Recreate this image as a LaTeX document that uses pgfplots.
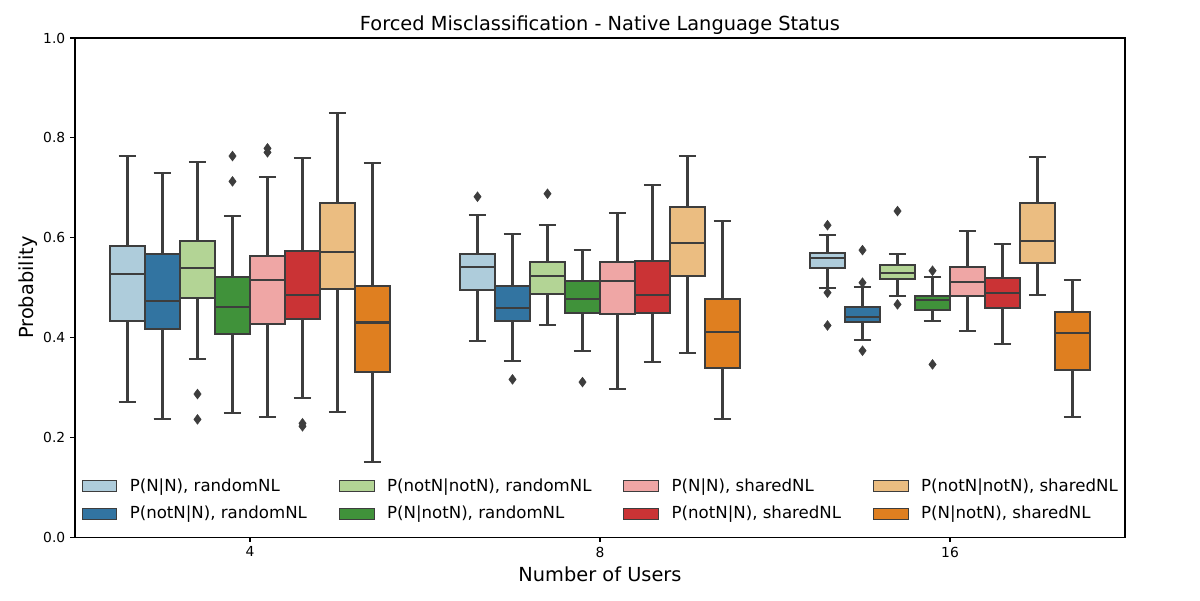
\documentclass[border=0pt]{standalone}
\usepackage{fontspec}
\setmainfont{DejaVu Sans}
\usepackage{pgfplots}
\pgfplotsset{compat=1.18}
\usepgfplotslibrary{statistics}

% Paired palette, desaturated
\definecolor{cA}{RGB}{174,204,219}
\definecolor{cB}{RGB}{50,116,161}
\definecolor{cC}{RGB}{179,212,149}
\definecolor{cD}{RGB}{64,146,58}
\definecolor{cE}{RGB}{239,166,165}
\definecolor{cF}{RGB}{202,51,53}
\definecolor{cG}{RGB}{235,189,129}
\definecolor{cH}{RGB}{223,127,32}
\definecolor{lc}{RGB}{61,61,61}

\pgfplotsset{
  bx/.style={forget plot, draw=lc, line width=1.5bp,
    mark=diamond*, mark size=3.5bp,
    mark options={fill=lc, draw=lc, line width=0.4bp, solid},
    boxplot/draw direction=y,
    boxplot/box extend=0.098, boxplot/whisker extend=0.05},
  lgd/.style={legend image code/.code={%
    \draw[##1,line width=0.7bp] (0bp,-4bp) rectangle (25bp,4bp);}},
}

% position, colour, lower whisker, Q1, median, Q3, upper whisker
\newcommand{\bx}[7]{\addplot[bx, fill=#2, boxplot prepared={draw position=#1,
  lower whisker=#3, lower quartile=#4, median=#5, upper quartile=#6, upper whisker=#7}]}

\begin{document}
\begin{tikzpicture}
\path[use as bounding box] (-54bp,-45.4bp) rectangle (810bp,386.7bp);
\begin{axis}[
  at={(0,0)}, anchor=south west,
  scale only axis, width=756bp, height=359.3bp,
  xmin=-0.5, xmax=2.5, ymin=0, ymax=1,
  xtick={0,1,2}, xticklabels={4,8,16},
  ytick={0,0.2,0.4,0.6,0.8,1.0},
  yticklabel style={/pgf/number format/.cd, fixed, fixed zerofill, precision=1},
  /pgf/number format/assume math mode=true,
  tick label style={font=\fontsize{10}{12}\selectfont, text=black},
  tick align=outside, xtick pos=bottom, ytick pos=left,
  major tick length=3.5bp,
  tick style={black, line width=0.8bp},
  axis line style={black, line width=0.8bp},
  title={Forced Misclassification - Native Language Status},
  every axis title/.style={font=\fontsize{14}{16}\selectfont,
    at={(axis description cs:0.5,1)}, yshift=9bp, anchor=center},
  xlabel={Number of Users},
  every axis x label/.style={font=\fontsize{14}{16}\selectfont,
    at={(axis description cs:0.5,0)}, yshift=-27bp, anchor=center},
  ylabel={Probability},
  every axis y label/.style={font=\fontsize{14}{16}\selectfont,
    at={(axis description cs:-0.045,0.5)}, rotate=90, anchor=center},
  legend columns=4,
  legend cell align=left,
  legend style={draw=none, fill=none, font=\fontsize{12}{14}\selectfont,
    at={(axis description cs:0.006,0.026)}, anchor=south west,
    inner sep=0pt, row sep=5bp,
    nodes={inner sep=2bp},
    /tikz/every odd column/.append style={column sep=7bp},
    /tikz/every even column/.append style={column sep=21bp}},
]
% Number of Users = 4
\bx{-0.35}{cA}{0.271}{0.4335}{0.5277}{0.5838}{0.7635} coordinates {};
\bx{-0.25}{cB}{0.237}{0.4175}{0.4736}{0.567}{0.730} coordinates {};
\bx{-0.15}{cC}{0.3574}{0.4796}{0.540}{0.594}{0.752} coordinates {(0,0.2866) (0,0.2359)};
\bx{-0.05}{cD}{0.249}{0.4075}{0.4616}{0.521}{0.643} coordinates {(0,0.7635) (0,0.7128)};
\bx{0.05}{cE}{0.241}{0.4275}{0.515}{0.5638}{0.7214} coordinates {(0,0.779) (0,0.771)};
\bx{0.15}{cF}{0.279}{0.4369}{0.4857}{0.573}{0.760} coordinates {(0,0.228) (0,0.222)};
\bx{0.25}{cG}{0.2512}{0.4976}{0.5718}{0.6693}{0.850} coordinates {};
\bx{0.35}{cH}{0.151}{0.3313}{0.430}{0.5036}{0.750} coordinates {};
% Number of Users = 8
\bx{0.65}{cA}{0.3934}{0.4957}{0.5417}{0.5678}{0.646} coordinates {(0,0.682)};
\bx{0.75}{cB}{0.3534}{0.4329}{0.4596}{0.5037}{0.608} coordinates {(0,0.316)};
\bx{0.85}{cC}{0.4255}{0.4876}{0.5237}{0.5511}{0.626} coordinates {(0,0.688)};
\bx{0.95}{cD}{0.3734}{0.4489}{0.4776}{0.5137}{0.5758} coordinates {(0,0.3106)};
\bx{1.05}{cE}{0.297}{0.4476}{0.513}{0.551}{0.650} coordinates {};
\bx{1.15}{cF}{0.3514}{0.4496}{0.4857}{0.5538}{0.7047} coordinates {};
\bx{1.25}{cG}{0.368}{0.5237}{0.589}{0.662}{0.764} coordinates {};
\bx{1.35}{cH}{0.237}{0.3387}{0.4115}{0.477}{0.634} coordinates {};
% Number of Users = 16
\bx{1.65}{cA}{0.4997}{0.5397}{0.5591}{0.5698}{0.6058} coordinates {(0,0.625) (0,0.4897) (0,0.424)};
\bx{1.75}{cB}{0.3954}{0.4309}{0.4416}{0.4616}{0.5017} coordinates {(0,0.575) (0,0.5097) (0,0.3734)};
\bx{1.85}{cC}{0.4823}{0.5177}{0.5284}{0.5457}{0.5678} coordinates {(0,0.6533) (0,0.4663)};
\bx{1.95}{cD}{0.4335}{0.4556}{0.475}{0.4837}{0.5204} coordinates {(0,0.5337) (0,0.346)};
\bx{2.05}{cE}{0.4135}{0.4823}{0.5117}{0.5411}{0.614} coordinates {};
\bx{2.15}{cF}{0.3874}{0.4596}{0.4897}{0.5197}{0.5878} coordinates {};
\bx{2.25}{cG}{0.4857}{0.5498}{0.5925}{0.6687}{0.761} coordinates {};
\bx{2.35}{cH}{0.2411}{0.334}{0.4081}{0.4516}{0.5157} coordinates {};

% legend, filled column by column
\addlegendimage{lgd, fill=cA, draw=lc}\addlegendentry{P(N|N), randomNL}
\addlegendimage{lgd, fill=cC, draw=lc}\addlegendentry{P(notN|notN), randomNL}
\addlegendimage{lgd, fill=cE, draw=lc}\addlegendentry{P(N|N), sharedNL}
\addlegendimage{lgd, fill=cG, draw=lc}\addlegendentry{P(notN|notN), sharedNL}
\addlegendimage{lgd, fill=cB, draw=lc}\addlegendentry{P(notN|N), randomNL}
\addlegendimage{lgd, fill=cD, draw=lc}\addlegendentry{P(N|notN), randomNL}
\addlegendimage{lgd, fill=cF, draw=lc}\addlegendentry{P(notN|N), sharedNL}
\addlegendimage{lgd, fill=cH, draw=lc}\addlegendentry{P(N|notN), sharedNL}
\end{axis}
\end{tikzpicture}
\end{document}
